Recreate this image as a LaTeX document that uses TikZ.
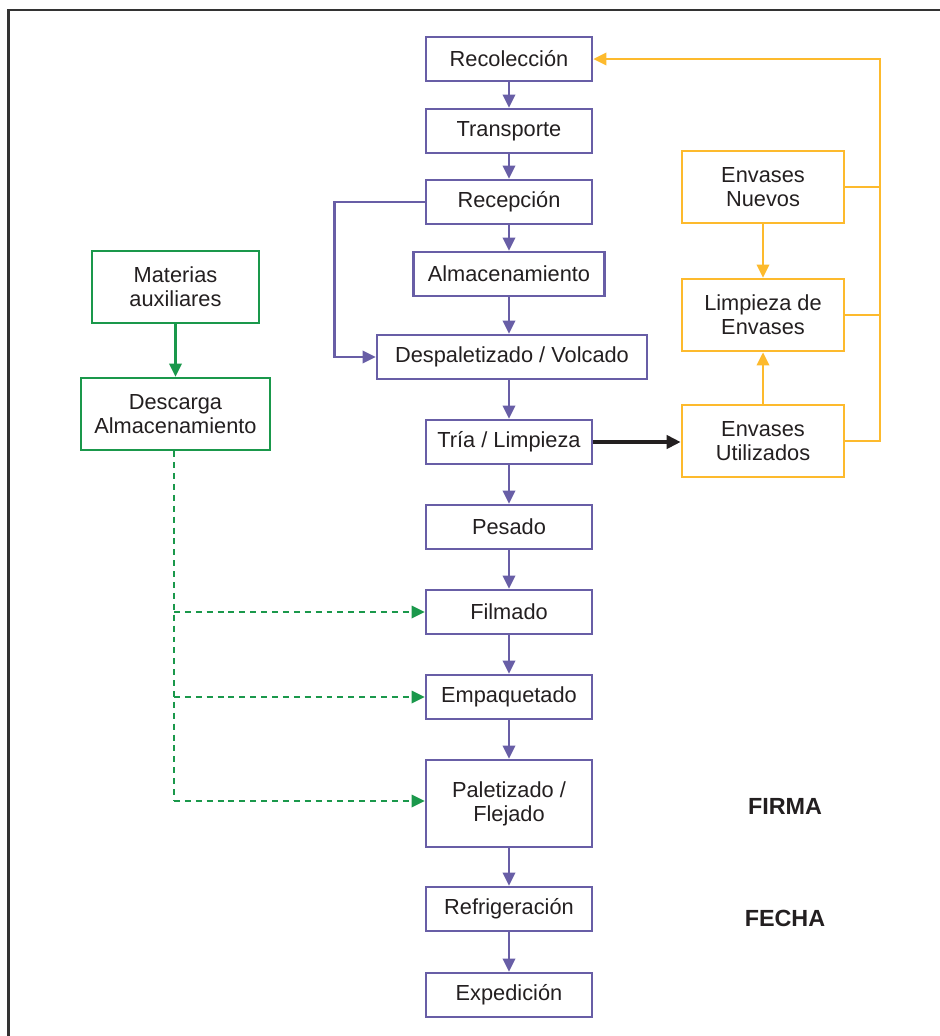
\documentclass[tikz,border=0pt]{standalone}
\usepackage{fontspec}
\setmainfont{Liberation Sans}
\usetikzlibrary{arrows.meta}
\definecolor{lila}{RGB}{104,94,166}
\definecolor{naranja}{RGB}{253,186,45}
\definecolor{verde}{RGB}{26,152,75}
\definecolor{tinta}{RGB}{35,31,32}

\begin{document}
\begin{tikzpicture}[x=0.02cm,y=-0.02cm,
  every node/.style={font=\fontsize{12.4}{13.8}\selectfont,text=tinta,align=center},
  paso/.style={draw=lila,line width=1.5pt,minimum width=3.32cm,minimum height=0.88cm,inner sep=0pt},
  envase/.style={draw=naranja,line width=1.5pt,minimum width=3.24cm,minimum height=1.44cm,inner sep=0pt},
  aux/.style={draw=verde,line width=1.5pt,minimum height=1.44cm,inner sep=0pt},
  flecha/.style={draw=lila,line width=1.5pt,-{Triangle[length=7.5pt,width=7pt]}},
  flechan/.style={draw=naranja,line width=1.5pt,-{Triangle[length=7.5pt,width=7pt]}},
  flechav/.style={draw=verde,line width=1.4pt,-{Triangle[length=7.5pt,width=7pt]}},
  discont/.style={draw=verde,line width=1.4pt,dash pattern=on 3.4pt off 2.8pt}]
\useasboundingbox (0,0) rectangle (940,1036);

% marco
\draw[black!80,line width=1.3pt] (8.5,1036) -- (8.5,10) -- (940,10);

% proceso principal
\node[paso] (rec) at (509,59) {Recolección};
\node[paso] (tra) at (509,131) {Transporte};
\node[paso] (rcp) at (509,202) {Recepción};
\node[paso,minimum width=3.82cm] (alm) at (509,274) {Almacenamiento};
\node[paso,minimum width=5.4cm] (des) at (512,357) {Despaletizado / Volcado};
\node[paso] (tri) at (509,442) {Tría / Limpieza};
\node[paso] (pes) at (509,527) {Pesado};
\node[paso] (fil) at (509,612) {Filmado};
\node[paso] (emp) at (509,697) {Empaquetado};
\node[paso,minimum height=1.74cm] (pal) at (509,803.5) {Paletizado /\\Flejado};
\node[paso] (ref) at (509,909) {Refrigeración};
\node[paso] (exp) at (509,995) {Expedición};

\draw[flecha] (rec) -- (tra);
\draw[flecha] (tra) -- (rcp);
\draw[flecha] (rcp) -- (alm);
\draw[flecha] (alm.south) -- (alm.south |- des.north);
\draw[flecha] (des.south -| tri.north) -- (tri);
\draw[flecha] (tri) -- (pes);
\draw[flecha] (pes) -- (fil);
\draw[flecha] (fil) -- (emp);
\draw[flecha] (emp) -- (pal);
\draw[flecha] (pal) -- (ref);
\draw[flecha] (ref) -- (exp);
\draw[flecha] (rcp.west) -- ++(-90,0) |- (des.west);

% envases
\node[envase] (nue) at (763,187) {Envases\\Nuevos};
\node[envase] (lim) at (763,315) {Limpieza de\\Envases};
\node[envase] (uti) at (763,441) {Envases\\Utilizados};
\coordinate (col) at (880,59);

\draw[flechan] (uti.east) -| (col) -- (rec.east);
\draw[naranja,line width=1.5pt] (nue.east) -- (nue.east -| col);
\draw[naranja,line width=1.5pt] (lim.east) -- (lim.east -| col);
\draw[flechan] (nue) -- (lim);
\draw[flechan] (uti) -- (lim);
\draw[tinta,line width=2pt,-{Triangle[length=8pt,width=7.5pt]}] (tri.east) -- (uti.west |- tri.east);

% materias auxiliares
\node[aux,minimum width=3.34cm] (mat) at (175.5,287) {Materias\\auxiliares};
\node[aux,minimum width=3.78cm] (dal) at (175.5,414) {Descarga\\Almacenamiento};
\draw[flechav] (mat) -- (dal);
\draw[discont] (dal.south -| 174,0) -- (174,801);
\draw[discont,flechav] (174,612) -- (fil.west);
\draw[discont,flechav] (174,697) -- (emp.west);
\draw[discont,flechav] (174,801) -- (pal.west |- 0,801);

% firma
\node[font=\fontsize{13.3}{15}\selectfont\bfseries] (fir) at (785,806) {FIRMA};
\node[font=\fontsize{13.3}{15}\selectfont\bfseries] (fec) at (785,918) {FECHA};
\end{tikzpicture}
\end{document}
